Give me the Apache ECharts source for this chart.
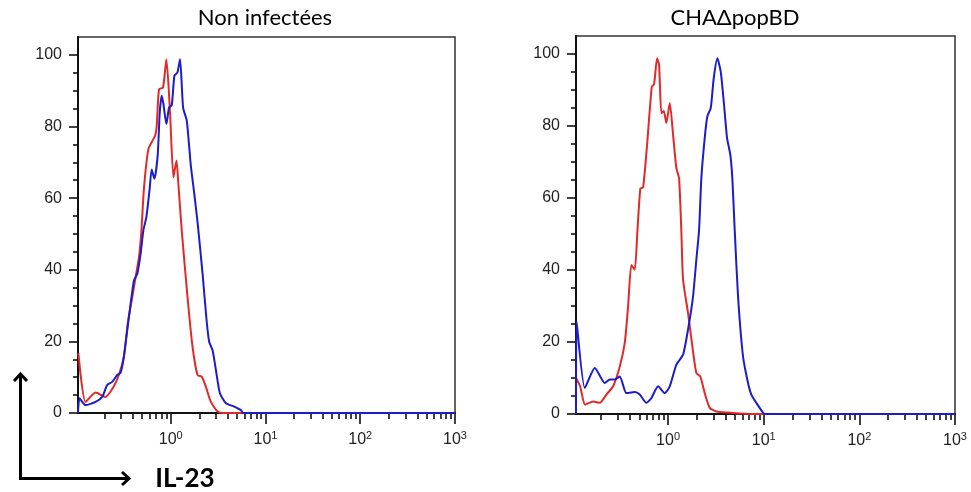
<!DOCTYPE html>
<html><head><meta charset="utf-8">
<script src="https://cdn.jsdelivr.net/npm/echarts@6/dist/echarts.min.js"></script>
<style>html,body{margin:0;padding:0;background:#fff}#c{width:971px;height:492px}</style>
</head><body><div id="c"></div>
<script>
// ---------- data ----------
const panelTitles = ['Non infectées', 'CHAΔpopBD'];
const axisName = 'IL-23';
const seriesNames = ['Contrôle isotypique', 'IL-23'];
const yMajorTicks = [0, 20, 40, 60, 80, 100];
const yMinorTicks = [5, 10, 15, 25, 30, 35, 45, 50, 55, 65, 70, 75, 85, 90, 95];
const xMajorTicks = [1, 10, 100, 1000];
const xMinorTicks = [0.2, 0.3, 0.4, 0.5, 0.6, 0.7, 0.8, 0.9,
  2, 3, 4, 5, 6, 7, 8, 9, 20, 30, 40, 50, 60, 70, 80, 90,
  200, 300, 400, 500, 600, 700, 800, 900];

// Non infectées : red (control) and blue
const nonInfRed = [[0.106,16.7],[0.126,3.1],[0.161,5.7],[0.205,4.5],[0.249,7.3],[0.283,10.6],[0.320,15.7],[0.353,25.4],[0.393,32.4],[0.426,38],[0.462,43.5],[0.490,50.8],[0.521,62.6],[0.581,73.7],[0.682,77.4],[0.711,80.2],[0.752,90.4],[0.829,90.9],[0.900,98.8],[0.983,83.9],[1.068,65.8],[1.149,70.5],[1.207,63.5],[1.308,50.8],[1.503,32.4],[1.698,18.5],[1.918,10.6],[2.130,10.1],[2.349,7.3],[2.653,3.1],[3.123,0.4],[3.6,0],[1000,0]];
const nonInfBlue = [[0.105,0],[0.109,4.1],[0.126,2.2],[0.161,3.1],[0.189,4.5],[0.2135,7.8],[0.241,8.7],[0.2725,10.6],[0.295,11.2],[0.320,15.7],[0.362,26.8],[0.409,37],[0.444,38.9],[0.481,44.5],[0.514,51],[0.553,54.7],[0.599,62.6],[0.629,68],[0.672,65.4],[0.728,71.9],[0.765,83.9],[0.803,88.6],[0.837,86.3],[0.900,80.7],[0.959,85.3],[1.025,86],[1.094,94.2],[1.177,95.1],[1.254,98.8],[1.35,85.3],[1.477,81.6],[1.629,69.1],[1.765,61.6],[1.918,53.3],[2.167,38.9],[2.389,25.9],[2.545,19.9],[2.765,17.5],[2.997,12],[3.304,5.5],[3.825,2.7],[4.684,1.8],[5.512,0.8],[5.8,0],[1000,0]];

// CHAΔpopBD : red (control) and blue
const chaRed = [[0.109,10],[0.1204,7.7],[0.1357,2.6],[0.1646,3.5],[0.1933,3.1],[0.2266,5.4],[0.2663,7.7],[0.3128,13.2],[0.3528,19.8],[0.382,29.9],[0.4135,41.4],[0.4487,40.1],[0.4777,50.7],[0.5135,62.7],[0.548,62.9],[0.6035,74.8],[0.6756,90.9],[0.714,91.6],[0.7676,98.8],[0.805,97],[0.851,83.6],[0.9018,84.2],[0.9598,80.8],[1.042,86.4],[1.128,77.6],[1.221,68.3],[1.303,65.5],[1.377,50.7],[1.435,37.3],[1.618,28],[1.795,18.8],[1.976,11.4],[2.175,10.4],[2.418,5.8],[2.728,1.7],[3.197,0.7],[4.067,0.4],[7.73,0],[1000,0]];
const chaBlue = [[0.109,0],[0.1106,25.7],[0.1348,7.2],[0.1714,12.8],[0.2181,8.6],[0.2459,9.6],[0.2773,9.6],[0.3128,10.4],[0.3666,5.8],[0.4487,6.1],[0.506,5.4],[0.5933,3.1],[0.669,4.4],[0.786,7.7],[0.9237,5.8],[1.042,7.7],[1.221,13.7],[1.435,16.5],[1.618,23.5],[1.825,32.7],[1.976,42.9],[2.108,51],[2.228,65.5],[2.418,76.7],[2.575,82.7],[2.794,85],[3.003,93.3],[3.275,98.8],[3.553,95.1],[3.848,85.9],[4.136,76.7],[4.477,72],[4.697,65.5],[4.977,51],[5.388,32.7],[6.076,16],[6.857,8.6],[7.421,5.4],[8.372,3.1],[9.833,0.4],[10.3,0],[1000,0]];

// ---------- chart ----------
const RED = '#e02a2a', BLUE = '#1c1cc9', INK = '#222';
const FONT = '"Liberation Sans", Arial, sans-serif';
const chart = echarts.init(document.getElementById('c'), null, {renderer: 'canvas'});

const grids = [
  {left: 78, top: 37, width: 377, height: 376, xmin: 0.105},
  {left: 576, top: 36, width: 379, height: 378, xmin: 0.109}
];

const xAxes = [], yAxes = [];
grids.forEach((g, i) => {
  const xBase = {gridIndex: i, type: 'log', logBase: 10, min: g.xmin, max: 1000,
    position: 'bottom', offset: 0, splitLine: {show: false}, minorTick: {show: false}};
  xAxes.push(Object.assign({}, xBase, {
    axisLine: {show: true, lineStyle: {color: '#111', width: 2}},
    axisTick: {show: true, inside: false, length: 11, customValues: xMajorTicks,
      lineStyle: {color: '#111', width: 1.6}},
    axisLabel: {show: true, customValues: xMajorTicks, margin: 17,
      formatter: v => '{n|10}{s|' + Math.round(Math.log10(v)) + '}',
      rich: {n: {fontSize: 16, color: INK, fontFamily: FONT, lineHeight: 20},
             s: {fontSize: 11, color: INK, fontFamily: FONT, verticalAlign: 'top'}}}
  }));
  xAxes.push(Object.assign({}, xBase, {
    axisLine: {show: false},
    axisTick: {show: true, inside: false, length: 6, customValues: xMinorTicks,
      lineStyle: {color: '#111', width: 1.6}},
    axisLabel: {show: false}
  }));
  const yBase = {gridIndex: i, type: 'value', min: 0, max: 105,
    position: 'left', offset: 0, splitLine: {show: false}, minorTick: {show: false}};
  yAxes.push(Object.assign({}, yBase, {
    axisLine: {show: true, lineStyle: {color: '#111', width: 2}},
    axisTick: {show: true, inside: false, length: 9, customValues: yMajorTicks,
      lineStyle: {color: '#111', width: 1.6}},
    axisLabel: {show: true, customValues: yMajorTicks, margin: 16,
      fontSize: 16, color: INK, fontFamily: FONT}
  }));
  yAxes.push(Object.assign({}, yBase, {
    axisLine: {show: false},
    axisTick: {show: true, inside: false, length: 5, customValues: yMinorTicks,
      lineStyle: {color: '#111', width: 1.6}},
    axisLabel: {show: false}
  }));
});

function line(name, data, color, gi) {
  return {type: 'line', name: name, data: data, xAxisIndex: gi * 2, yAxisIndex: gi * 2,
    showSymbol: false, symbol: 'none', smooth: 0.2, clip: false,
    lineStyle: {color: color, width: 2}, itemStyle: {color: color}, z: 5};
}

chart.setOption({
  animation: false,
  backgroundColor: '#fff',
  grid: grids.map(g => ({left: g.left, top: g.top, width: g.width, height: g.height,
    show: true, borderColor: '#333', borderWidth: 1.5, backgroundColor: 'transparent',
    containLabel: false, outerBoundsMode: 'none'})),
  xAxis: xAxes,
  yAxis: yAxes,
  series: [
    line(seriesNames[0], nonInfRed, RED, 0),
    line(seriesNames[1], nonInfBlue, BLUE, 0),
    line(seriesNames[0], chaRed, RED, 1),
    line(seriesNames[1], chaBlue, BLUE, 1)
  ],
  graphic: [
    {type: 'text', x: 265, y: 18, style: {text: panelTitles[0], fontSize: 22,
      fontFamily: 'Lato, "Open Sans", sans-serif', fill: '#000', align: 'center', verticalAlign: 'middle'}},
    {type: 'text', x: 735, y: 18, style: {text: panelTitles[1], fontSize: 22,
      fontFamily: 'Lato, "Open Sans", sans-serif', fill: '#000', align: 'center', verticalAlign: 'middle'}},
    {type: 'text', x: 185, y: 479, style: {text: axisName, fontSize: 26, fontWeight: 'bold',
      fontFamily: 'Lato, "Open Sans", sans-serif', fill: '#000', align: 'center', verticalAlign: 'middle'}},
    {type: 'polyline', shape: {points: [[20.5, 479], [20.5, 374]]}, style: {stroke: '#000', lineWidth: 3, fill: null}},
    {type: 'polyline', shape: {points: [[14, 381], [20.5, 374], [27, 381]]}, style: {stroke: '#000', lineWidth: 3, fill: null}},
    {type: 'polyline', shape: {points: [[19, 478.5], [129, 478.5]]}, style: {stroke: '#000', lineWidth: 3, fill: null}},
    {type: 'polyline', shape: {points: [[122, 472], [129, 478.5], [122, 485]]}, style: {stroke: '#000', lineWidth: 3, fill: null}}
  ]
});
</script></body></html>
